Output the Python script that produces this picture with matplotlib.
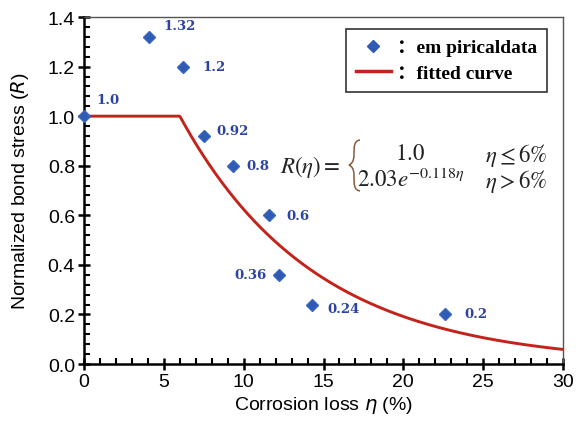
import numpy as np
import matplotlib
matplotlib.use("Agg")
import matplotlib.pyplot as plt
from matplotlib.lines import Line2D
from matplotlib.path import Path
from matplotlib.patches import PathPatch
from matplotlib.ticker import MultipleLocator, FormatStrFormatter

plt.rcParams["mathtext.fontset"] = "stix"

# Empirical data: corrosion loss (%) and normalized bond stress
corrosion_loss = [0.0, 4.1, 6.2, 7.5, 9.3, 11.6, 12.2, 14.3, 22.6]
bond_stress = [1.0, 1.32, 1.2, 0.92, 0.8, 0.6, 0.36, 0.24, 0.2]
point_labels = ["1.0", "1.32", "1.2", "0.92", "0.8", "0.6", "0.36", "0.24", "0.2"]
# label offsets in points (dx, dy, horizontal alignment)
label_offsets = [(9, 12, "left"), (10, 8, "left"), (14, 0, "left"), (9, 4, "left"),
                 (10, 0, "left"), (12, 0, "left"), (-9, 0, "right"), (11, -3, "left"),
                 (14, 1, "left")]

# Fitted model parameters
threshold = 6.0
coef_a = 2.03
coef_b = 0.118

eta = np.linspace(0, 30, 600)
fit = np.where(eta <= threshold, 1.0, coef_a * np.exp(-coef_b * eta))

W, H = 579, 431
fig = plt.figure(figsize=(W / 100, H / 100), dpi=100)
ax = fig.add_axes([0.1451, 0.1531, 0.8273, 0.8051])

blue = "#2f5bb5"
red = "#c4231b"
label_blue = "#2b44a3"

ax.plot(eta, fit, color=red, lw=2.1, zorder=2)
ax.plot(corrosion_loss, bond_stress, linestyle="none", marker="D", ms=6.5,
        color=blue, markeredgecolor="#3a66c0", zorder=3, clip_on=False)

for x, y, txt, (dx, dy, ha) in zip(corrosion_loss, bond_stress, point_labels, label_offsets):
    ax.annotate(txt, (x, y), xytext=(dx, dy), textcoords="offset points",
                ha=ha, va="center", fontsize=9.5, fontweight="bold",
                color=label_blue, family="DejaVu Serif")

ax.set_xlim(0, 30)
ax.set_ylim(0, 1.4)
ax.xaxis.set_major_locator(MultipleLocator(5))
ax.xaxis.set_minor_locator(MultipleLocator(1))
ax.yaxis.set_major_locator(MultipleLocator(0.2))
ax.yaxis.set_minor_locator(MultipleLocator(0.04))
ax.yaxis.set_major_formatter(FormatStrFormatter("%.1f"))

ax.tick_params(which="major", direction="inout", length=9, width=1.8,
               labelsize=14, pad=2)
ax.tick_params(which="minor", direction="in", length=4, width=1.5)
ax.tick_params(top=False, right=False, which="both")
for lab in ax.get_xticklabels() + ax.get_yticklabels():
    lab.set_family("Liberation Sans")

for side in ("left", "bottom"):
    ax.spines[side].set_linewidth(1.8)
    ax.spines[side].set_color("black")
for side in ("top", "right"):
    ax.spines[side].set_linewidth(1.0)
    ax.spines[side].set_color("#555555")

xl = ax.set_xlabel(r"Corrosion loss $\it{\eta}$ (%)", fontsize=14,
                   family="Liberation Sans", labelpad=3)
yl = ax.set_ylabel(r"Normalized bond stress ($\it{R}$)", fontsize=14,
                   family="Liberation Sans", labelpad=12)
xl.set_math_fontfamily("dejavusans")
yl.set_math_fontfamily("dejavusans")

# Piecewise model equation
eq_kw = dict(fontsize=16.5, color="#222222", va="center")
fig.text(280 / W, 1 - 167 / H, r"$R(\eta) =$", ha="left", **eq_kw)
fig.text(410 / W, 1 - 154 / H, r"$1.0$", ha="center", **eq_kw)
fig.text(357 / W, 1 - 180 / H, r"$2.03e^{-0.118\eta}$", ha="left", **eq_kw)
fig.text(485 / W, 1 - 156 / H, r"$\eta \leq 6\%$", ha="left", **eq_kw)
fig.text(485 / W, 1 - 182 / H, r"$\eta > 6\%$", ha="left", **eq_kw)

# Curly brace drawn as a path in pixel space
bx_tip, bx_mid, bx_end = 349, 354, 360
by_top, by_mid, by_bot = 141, 166, 192
brace_px = [
    (bx_end, by_top), (bx_mid, by_top + 1), (bx_mid, by_top + 6), (bx_mid, by_mid - 10),
    (bx_mid, by_mid - 3), (bx_tip + 2, by_mid - 1), (bx_tip, by_mid),
    (bx_tip + 2, by_mid + 1), (bx_mid, by_mid + 3), (bx_mid, by_mid + 10),
    (bx_mid, by_bot - 6), (bx_mid, by_bot - 1), (bx_end, by_bot),
]
codes = [Path.MOVETO] + [Path.CURVE4] * 12
brace_fig = [(x / W, 1 - y / H) for x, y in brace_px]
fig.add_artist(PathPatch(Path(brace_fig, codes), transform=fig.transFigure,
                         fill=False, edgecolor="#8a5a3c", lw=1.1))

handles = [
    Line2D([], [], linestyle="none", marker="D", ms=6, color=blue),
    Line2D([], [], color=red, lw=2.5),
]
leg = ax.legend(handles, ["：em piricaldata", "：fitted curve"], loc="upper right",
                bbox_to_anchor=(0.967, 0.965), borderaxespad=0.0,
                frameon=True, fancybox=False,
                edgecolor="black", handlelength=1.8, handletextpad=0.35,
                borderpad=0.5, labelspacing=0.4, numpoints=1,
                prop={"family": ["Liberation Serif", "Noto Sans CJK SC"],
                      "size": 14, "weight": "bold"})
leg.get_frame().set_linewidth(1.2)

fig.savefig("out.png", dpi=100)
